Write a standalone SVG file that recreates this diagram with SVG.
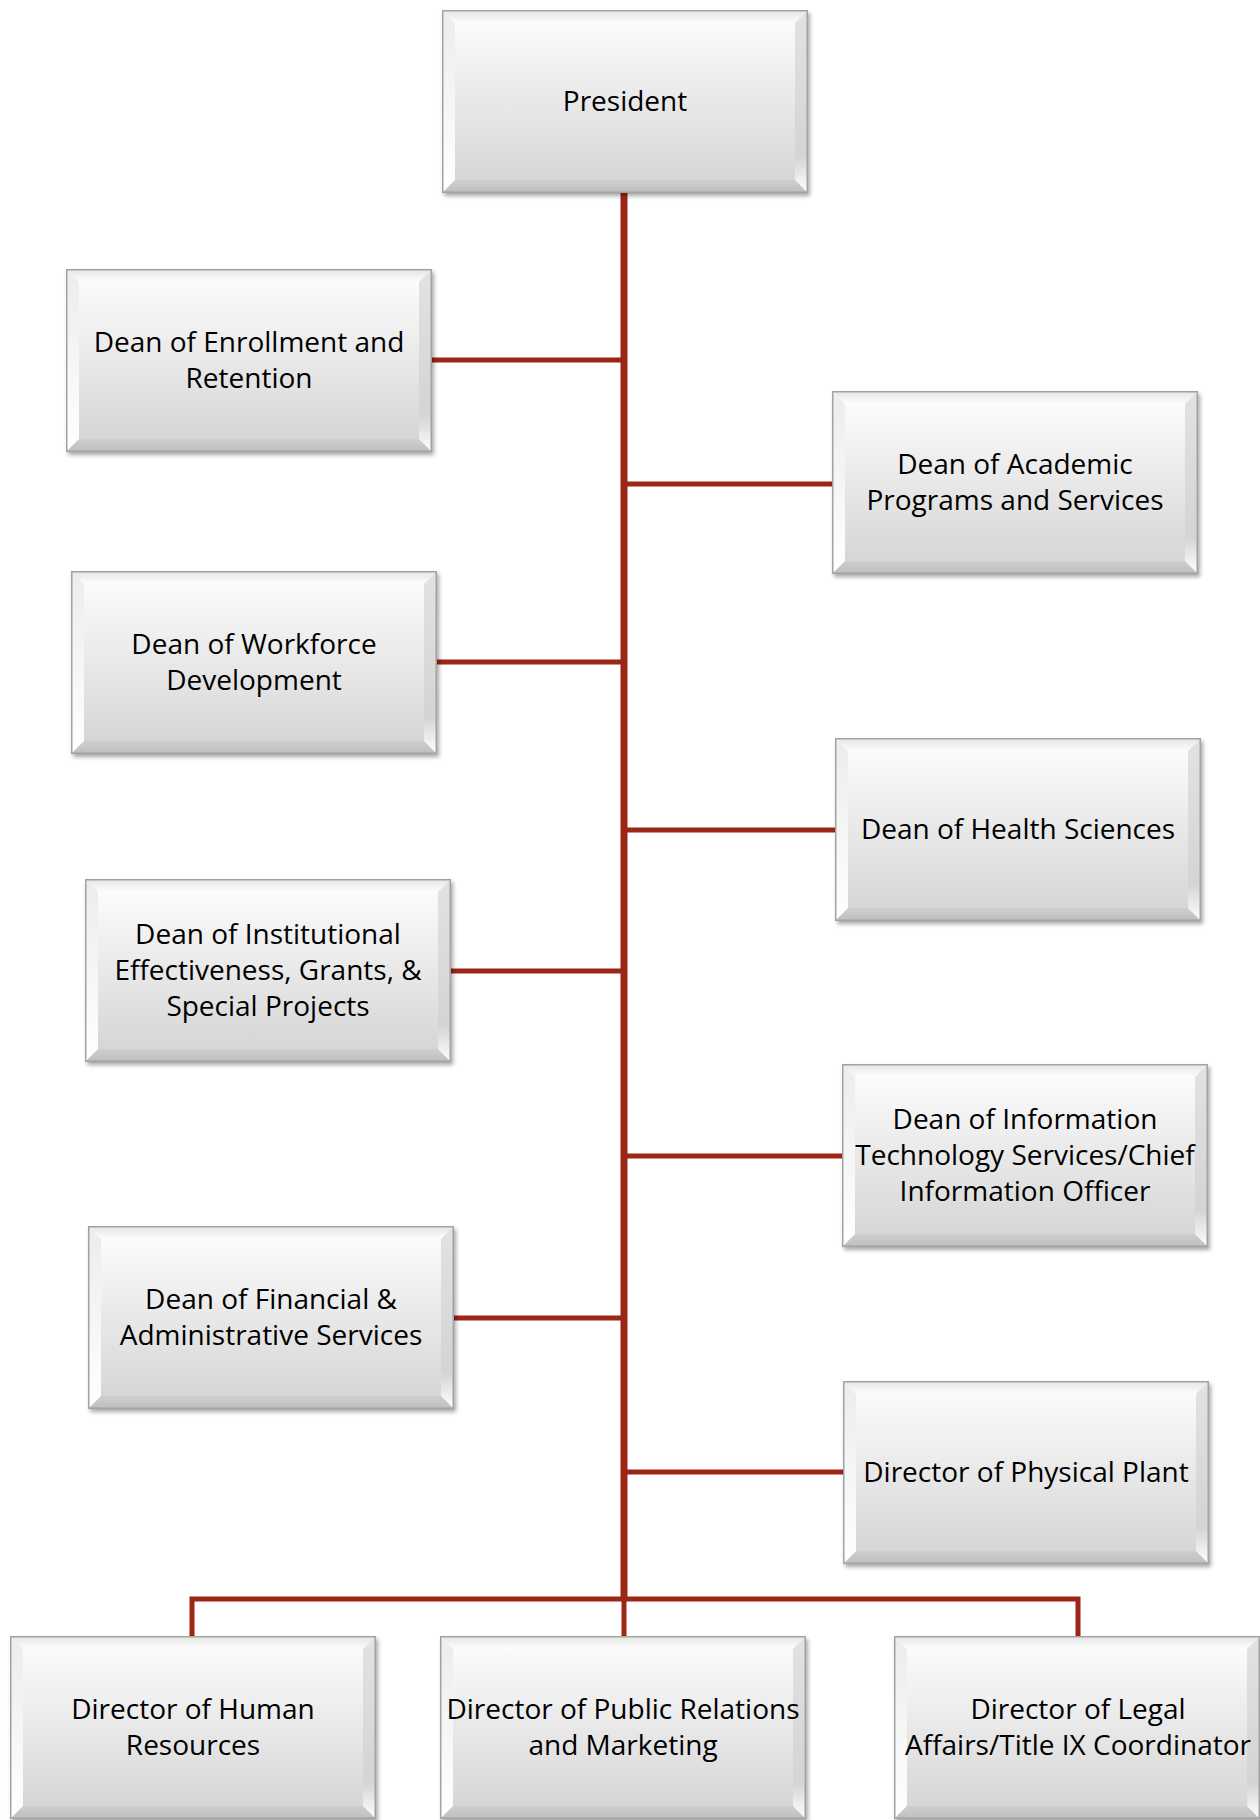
<svg xmlns="http://www.w3.org/2000/svg" xmlns:xlink="http://www.w3.org/1999/xlink" width="1260" height="1820" viewBox="0 0 1260 1820">
<defs>
<style>
.t{font-family:"Open Sans","Noto Sans","Liberation Sans",sans-serif;font-size:28px;fill:#000;text-anchor:middle}
.c{fill:none;stroke:#9c2516;stroke-width:5}
.trunk{fill:none;stroke:#9c2516;stroke-width:7}
</style>
<linearGradient id="face" x1="0" y1="0" x2="0" y2="1">
<stop offset="0" stop-color="#fbfbfb"/>
<stop offset="1" stop-color="#d6d6d6"/>
</linearGradient>
<linearGradient id="topb" x1="0" y1="0" x2="0" y2="1">
<stop offset="0" stop-color="#e4e4e4"/>
<stop offset="1" stop-color="#fdfdfd"/>
</linearGradient>
<linearGradient id="leftb" x1="0" y1="0" x2="0" y2="1">
<stop offset="0" stop-color="#ececec"/>
<stop offset="1" stop-color="#ffffff"/>
</linearGradient>
<linearGradient id="rightb" x1="0" y1="0" x2="0" y2="1">
<stop offset="0" stop-color="#e2e2e2"/>
<stop offset="0.8" stop-color="#d4d4d4"/>
<stop offset="1" stop-color="#ffffff"/>
</linearGradient>
<linearGradient id="botb" x1="0" y1="0" x2="0" y2="1">
<stop offset="0" stop-color="#cfcfcf"/>
<stop offset="1" stop-color="#bdbdbd"/>
</linearGradient>
<filter id="sh" x="-5%" y="-5%" width="112%" height="115%">
<feGaussianBlur in="SourceAlpha" stdDeviation="2"/>
<feOffset dx="2" dy="3" result="b"/>
<feComponentTransfer><feFuncA type="linear" slope="0.35"/></feComponentTransfer>
<feMerge><feMergeNode/><feMergeNode in="SourceGraphic"/></feMerge>
</filter>
<g id="box">
<rect x="0" y="0" width="366" height="183" fill="#ffffff" filter="url(#sh)"/>
<rect x="13" y="13" width="340" height="157" fill="url(#face)"/>
<polygon points="0,0 366,0 353,13 13,13" fill="url(#topb)"/>
<polygon points="0,0 13,13 13,170 0,183" fill="url(#leftb)"/>
<polygon points="366,0 366,183 353,170 353,13" fill="url(#rightb)"/>
<polygon points="0,183 13,170 353,170 366,183" fill="url(#botb)"/>
<rect x="0.75" y="0.75" width="364.5" height="181.5" fill="none" stroke="#a3a3a3" stroke-width="1.5"/>
</g>
</defs>
<rect width="1260" height="1820" fill="#ffffff"/>
<g id="connectors">
<line class="trunk" x1="624" y1="193" x2="624" y2="1599"/>
<line class="c" x1="432" y1="360" x2="624" y2="360"/>
<line class="c" x1="624" y1="484" x2="832" y2="484"/>
<line class="c" x1="437" y1="662" x2="624" y2="662"/>
<line class="c" x1="624" y1="830" x2="835" y2="830"/>
<line class="c" x1="451" y1="971" x2="624" y2="971"/>
<line class="c" x1="624" y1="1156" x2="842" y2="1156"/>
<line class="c" x1="454" y1="1318" x2="624" y2="1318"/>
<line class="c" x1="624" y1="1472" x2="843" y2="1472"/>
<polyline class="c" points="192,1636 192,1599 1078,1599 1078,1636"/>
<line class="c" x1="624" y1="1599" x2="624" y2="1636"/>
</g>
<g id="president"><use href="#box" x="442" y="10"/><text class="t" x="625" y="111">President</text></g>
<g id="dean-enrollment"><use href="#box" x="66" y="269"/><text class="t" x="249" y="352">Dean of Enrollment and</text><text class="t" x="249" y="388">Retention</text></g>
<g id="dean-academic"><use href="#box" x="832" y="391"/><text class="t" x="1015" y="474">Dean of Academic</text><text class="t" x="1015" y="510">Programs and Services</text></g>
<g id="dean-workforce"><use href="#box" x="71" y="571"/><text class="t" x="254" y="654">Dean of Workforce</text><text class="t" x="254" y="690">Development</text></g>
<g id="dean-health"><use href="#box" x="835" y="738"/><text class="t" x="1018" y="839">Dean of Health Sciences</text></g>
<g id="dean-institutional"><use href="#box" x="85" y="879"/><text class="t" x="268" y="944">Dean of Institutional</text><text class="t" x="268" y="980">Effectiveness, Grants, &amp;</text><text class="t" x="268" y="1016">Special Projects</text></g>
<g id="dean-it"><use href="#box" x="842" y="1064"/><text class="t" x="1025" y="1129">Dean of Information</text><text class="t" x="1025" y="1165">Technology Services/Chief</text><text class="t" x="1025" y="1201">Information Officer</text></g>
<g id="dean-financial"><use href="#box" x="88" y="1226"/><text class="t" x="271" y="1309">Dean of Financial &amp;</text><text class="t" x="271" y="1345">Administrative Services</text></g>
<g id="director-plant"><use href="#box" x="843" y="1381"/><text class="t" x="1026" y="1482">Director of Physical Plant</text></g>
<g id="director-hr"><use href="#box" x="10" y="1636"/><text class="t" x="193" y="1719">Director of Human</text><text class="t" x="193" y="1755">Resources</text></g>
<g id="director-pr"><use href="#box" x="440" y="1636"/><text class="t" x="623" y="1719">Director of Public Relations</text><text class="t" x="623" y="1755">and Marketing</text></g>
<g id="director-legal"><use href="#box" x="894" y="1636"/><text class="t" x="1078" y="1719">Director of Legal</text><text class="t" x="1078" y="1755">Affairs/Title IX Coordinator</text></g>
</svg>
